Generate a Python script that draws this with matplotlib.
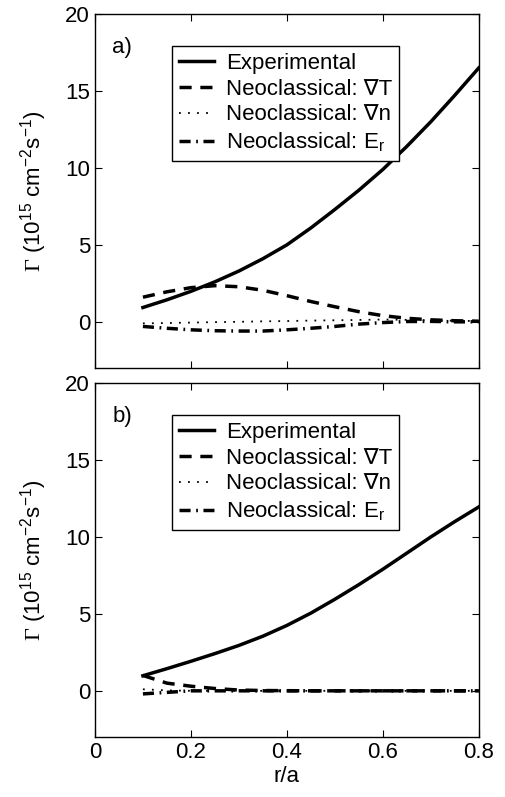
import numpy as np
import matplotlib
matplotlib.use("Agg")
import matplotlib.pyplot as plt

plt.rcParams['font.family'] = ['Liberation Sans', 'DejaVu Sans']
plt.rcParams['mathtext.fontset'] = 'custom'
plt.rcParams['mathtext.rm'] = 'Liberation Sans'
plt.rcParams['mathtext.it'] = 'Liberation Sans'
plt.rcParams['mathtext.sf'] = 'Liberation Serif'

# r/a grid
ra = [0.1, 0.15, 0.2, 0.25, 0.3, 0.35, 0.4, 0.45, 0.5, 0.55, 0.6, 0.65, 0.7, 0.75, 0.8]

# panel a)
exp_a = [0.93, 1.43, 1.98, 2.6, 3.3, 4.1, 5.0, 6.1, 7.3, 8.55, 9.9, 11.4, 13.0, 14.72, 16.5]
gradT_a = [1.6, 1.95, 2.22, 2.35, 2.28, 2.05, 1.7, 1.32, 0.98, 0.66, 0.4, 0.23, 0.13, 0.07, 0.04]
gradn_a = [-0.1, -0.08, -0.05, -0.02, 0.0, 0.03, 0.05, 0.08, 0.1, 0.12, 0.15, 0.13, 0.1, 0.07, 0.05]
Er_a = [-0.3, -0.42, -0.52, -0.58, -0.6, -0.6, -0.52, -0.42, -0.3, -0.15, -0.05, 0.02, 0.03, 0.0, 0.0]

# panel b)
exp_b = [0.98, 1.44, 1.92, 2.42, 2.95, 3.55, 4.25, 5.05, 5.95, 6.9, 7.9, 8.95, 10.0, 11.0, 11.95]
gradT_b = [1.0, 0.5, 0.3, 0.15, 0.05, 0.02, 0.01, 0.0, 0.0, 0.0, 0.0, 0.0, 0.0, 0.0, 0.0]
gradn_b = [0.1, 0.03, 0.0, 0.0, 0.0, 0.0, 0.0, 0.0, 0.0, 0.0, 0.0, 0.0, 0.0, 0.0, 0.0]
Er_b = [-0.2, -0.1, 0.0, 0.0, 0.0, 0.0, 0.0, 0.0, 0.0, 0.0, 0.0, 0.0, 0.0, 0.0, 0.0]

labels = ['Experimental', 'Neoclassical: \u2207T', 'Neoclassical: \u2207n',
          'Neoclassical: E$_\\mathrm{r}$']
xticks = [0, 0.2, 0.4, 0.6, 0.8]
yticks = [0, 5, 10, 15, 20]

fig = plt.figure(figsize=(5.05, 7.97), dpi=100)
ax1 = fig.add_axes([0.188, 0.5383, 0.760, 0.444])
ax2 = fig.add_axes([0.188, 0.0753, 0.760, 0.444])

panels = [(ax1, exp_a, gradT_a, gradn_a, Er_a, 'a)'),
          (ax2, exp_b, gradT_b, gradn_b, Er_b, 'b)')]

for ax, e, t, n, er, tag in panels:
    ax.plot(ra, e, color='black', lw=2.5, label=labels[0])
    ax.plot(ra, t, color='black', lw=2.5, dashes=(3.5, 2.5), label=labels[1])
    ax.plot(ra, n, color='black', lw=1.3, dashes=(1.0, 4.0), label=labels[2])
    ax.plot(ra, er, color='black', lw=2.5, dashes=(3.2, 1.6, 0.5, 1.6), label=labels[3])
    ax.set_xlim(0, 0.8)
    ax.set_ylim(-3, 20)
    ax.set_xticks(xticks)
    ax.set_yticks(yticks)
    ax.tick_params(direction='in', top=True, right=True, labelsize=16, length=5, width=0.8)
    for s in ax.spines.values():
        s.set_linewidth(1.0)
    ax.set_ylabel('$\\mathsf{\\Gamma}$ (10$^{15}$ cm$^{-2}$s$^{-1}$)', fontsize=16, labelpad=12)
    ax.text(0.045, 0.905, tag, transform=ax.transAxes, fontsize=16, va='center', ha='left')
    leg = ax.legend(loc='upper left', bbox_to_anchor=(0.2005, 0.91), borderaxespad=0,
                    fontsize=16, handlelength=1.6, handletextpad=0.55, labelspacing=0.22,
                    fancybox=False, framealpha=1, edgecolor='black', borderpad=0.3)
    leg.get_frame().set_linewidth(1.0)

ax1.set_xticklabels([])
ax2.set_xticklabels(['0', '0.2', '0.4', '0.6', '0.8'])
ax2.set_xlabel('r/a', fontsize=16, labelpad=2)

fig.savefig('out.png', dpi=100)
